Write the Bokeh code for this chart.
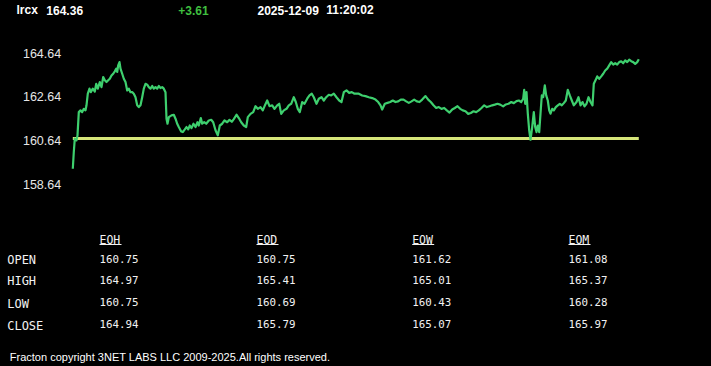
from bokeh.plotting import figure
from bokeh.models import Range1d
from bokeh.core.properties import value
from bokeh.embed import file_html
from bokeh.resources import INLINE

# ---------------- data ----------------
ticker = "lrcx"
open_price = 160.75
last_price = 164.36
stamp_date = "2025-12-09"
stamp_time = "11:20:02"

y_ticks = [158.64, 160.64, 162.64, 164.64]

# elapsed session ticks and traded price
elapsed_a = [0.3, 1.3, 2.3, 4.0, 5.0, 6.3, 8.0, 9.7, 11.3, 13.0,
             14.0, 15.3, 17.0, 18.3, 20.3, 22.3, 23.7, 25.3, 27.3, 29.0,
             30.7, 32.3, 34.0, 35.7, 37.3, 39.0, 40.7, 42.3, 43.7, 44.7,
             45.7, 47.0, 48.0, 49.7, 51.3, 53.0, 54.7, 56.3, 58.0, 59.7,
             61.3, 63.0, 64.7, 66.3, 68.0, 69.7, 71.3, 73.0, 74.7, 76.3,
             78.0, 79.7, 81.3, 83.0, 84.7, 86.3, 88.0, 89.7, 91.3, 93.0,
             94.0, 95.0, 96.3, 99.0, 101.3, 103.0, 104.7, 106.3, 108.7, 110.3,
             112.3, 114.0, 115.7, 117.3, 119.0, 121.0, 123.0, 125.0, 126.3, 128.3,
             129.7, 131.7, 133.7, 136.3, 138.7, 140.7]
price_a = [159.37, 160.13, 160.74, 160.66, 160.89, 161.95, 162.03, 161.95, 162.10, 162.03,
           162.26, 162.79, 163.02, 162.86, 163.02, 162.89, 163.24, 163.02, 163.32, 163.09,
           163.55, 163.40, 163.32, 163.40, 163.47, 163.62, 163.70, 163.81, 163.93, 163.78,
           164.08, 164.23, 163.93, 163.70, 163.47, 163.32, 162.94, 163.02, 162.86, 162.86,
           162.79, 162.63, 162.26, 162.18, 162.26, 162.63, 163.02, 163.24, 163.20, 163.09,
           163.02, 163.14, 163.02, 163.09, 163.02, 163.14, 163.05, 163.09, 163.02, 162.86,
           161.65, 161.42, 161.72, 161.80, 161.83, 161.65, 161.42, 161.27, 161.07, 161.04,
           161.16, 161.27, 161.16, 161.34, 161.22, 161.42, 161.27, 161.49, 161.34, 161.68,
           161.42, 161.49, 161.42, 161.57, 161.60, 161.49]

elapsed_b = [143.0, 145.3, 147.3, 149.7, 152.0, 154.7, 157.0, 159.3, 161.3, 164.0,
             166.3, 168.7, 171.3, 173.7, 175.3, 178.0, 180.7, 183.0, 185.3, 188.0,
             190.3, 192.7, 194.7, 197.0, 199.7, 202.0, 204.7, 206.7, 208.7, 211.3,
             214.0, 216.3, 218.7, 221.3, 223.3, 225.3, 227.3, 229.7, 232.0, 234.7,
             237.0, 239.3, 241.3, 244.0, 246.3, 249.0, 251.3, 253.7, 256.3, 258.7,
             261.3, 264.0, 266.7, 269.0, 271.3, 274.0, 276.7, 279.3, 282.0]
price_b = [161.12, 160.89, 161.34, 161.42, 161.57, 161.49, 161.60, 161.51, 161.63, 161.83,
           161.68, 161.49, 161.34, 161.27, 161.72, 161.87, 161.95, 162.22, 162.10, 162.18,
           162.03, 162.29, 162.48, 162.22, 162.26, 162.10, 162.26, 162.33, 161.87, 162.03,
           162.10, 162.26, 162.33, 162.63, 162.41, 162.10, 161.95, 162.41, 162.33, 162.56,
           162.71, 162.79, 162.63, 162.33, 162.56, 162.63, 162.48, 162.63, 162.74, 162.71,
           162.79, 162.63, 162.48, 162.41, 162.86, 162.94, 162.83, 162.86, 162.79]

elapsed_c = [286.3, 289.7, 293.0, 296.3, 299.7, 303.0, 305.7, 308.0, 309.7, 312.3,
             315.0, 317.7, 320.3, 323.0, 325.7, 328.3, 331.0, 333.7, 336.3, 339.0,
             341.7, 344.3, 347.0, 349.7, 353.0, 355.7, 358.3, 361.0, 363.7, 366.3,
             369.0, 371.7, 374.3, 377.0, 379.7, 382.3, 385.0, 387.7, 390.3, 393.0,
             395.7, 398.3, 401.0, 403.7, 406.3, 409.0, 411.7, 414.3, 417.0, 419.7,
             422.3, 425.0, 427.7]
price_c = [162.79, 162.71, 162.68, 162.63, 162.59, 162.52, 162.41, 162.26, 162.07, 162.33,
           162.37, 162.41, 162.48, 162.41, 162.44, 162.52, 162.52, 162.44, 162.37, 162.44,
           162.52, 162.44, 162.41, 162.52, 162.68, 162.52, 162.41, 162.26, 162.14, 162.18,
           162.10, 162.14, 162.03, 161.93, 162.07, 162.14, 162.22, 162.10, 162.03, 161.99,
           161.87, 161.91, 161.99, 161.95, 162.03, 162.14, 162.26, 162.18, 162.22, 162.26,
           162.29, 162.33, 162.29]

elapsed_d = [430.7, 433.3, 436.0, 438.7, 441.3, 444.0, 446.3, 448.7, 450.7, 451.7,
             452.7, 454.0, 455.3, 456.7, 458.0, 459.7, 461.3, 462.7, 464.0, 465.3,
             466.7, 468.0, 469.3, 470.7, 472.3, 473.7, 475.3, 476.7, 478.0, 479.7,
             481.3, 483.3, 485.3, 487.3, 489.3, 491.3, 493.3, 495.3, 497.3, 499.3,
             501.3, 504.0, 506.0, 508.0, 510.0, 512.0, 514.0, 516.0, 518.0, 520.0,
             521.3, 523.0, 524.7, 526.7, 528.7, 530.7, 532.7, 534.7, 536.7, 538.7,
             540.7, 542.7, 544.7, 546.7, 548.7, 550.7, 552.7, 554.7, 556.7, 558.7,
             560.7, 562.7, 564.7, 566.3]
price_d = [162.21, 162.30, 162.33, 162.41, 162.36, 162.45, 162.48, 162.41, 162.56, 162.97,
           162.33, 162.86, 161.88, 161.12, 160.69, 161.27, 161.95, 161.27, 161.04, 161.34,
           161.04, 161.88, 162.71, 162.63, 163.17, 162.71, 162.48, 162.03, 161.88, 162.10,
           162.03, 162.18, 162.26, 162.33, 162.26, 162.36, 162.48, 162.97, 162.71, 162.48,
           162.26, 162.41, 162.63, 162.26, 162.41, 162.21, 162.33, 162.63, 162.41, 162.26,
           163.24, 163.40, 163.58, 163.47, 163.58, 163.70, 163.85, 163.93, 164.08, 164.23,
           164.12, 164.18, 164.12, 164.23, 164.27, 164.18, 164.31, 164.23, 164.34, 164.27,
           164.23, 164.15, 164.23, 164.36]

row_names = ["OPEN", "HIGH", "LOW", "CLOSE"]
col_names = ["EOH", "EOD", "EOW", "EOM"]
eoh = [160.75, 164.97, 160.75, 164.94]
eod = [160.75, 165.41, 160.69, 165.79]
eow = [161.62, 165.01, 160.43, 165.07]
eom = [161.08, 165.37, 160.28, 165.97]

copyright_text = "Fracton copyright 3NET LABS LLC 2009-2025.All rights reserved."

# ---------------- assemble series ----------------
elapsed, price = [], []
for e, pr in ((elapsed_a, price_a), (elapsed_b, price_b), (elapsed_c, price_c), (elapsed_d, price_d)):
    n = min(len(e), len(pr))
    elapsed += e[:n]
    price += pr[:n]

# ---------------- figure ----------------
W, H = 711, 366
p = figure(width=W, height=H, output_backend="svg", toolbar_location=None,
           x_range=Range1d(-72, 639), y_range=Range1d(150.35, 167.04),
           x_axis_location=None, y_axis_location=None, min_border=0,
           background_fill_color="black", border_fill_color="black",
           outline_line_color=None)
p.grid.visible = False
p.extra_x_ranges = {"px": Range1d(0, W)}
p.extra_y_ranges = {"py": Range1d(start=H, end=0)}

# price axis labels (tick values through y scale)
p.text(x=[60.7] * len(y_ticks), y=y_ticks, text=[f"{v:.2f}" for v in y_ticks],
       x_range_name="px", text_align="right", text_baseline="middle",
       text_font=value("Liberation Sans"), text_font_size="12.5px", text_color="#e6e6e6")

# open reference line and price line
p.line([elapsed[0], elapsed[-1]], [open_price, open_price], line_color="#d6e67a", line_width=3)
p.line(elapsed, price, line_color="#3ecf6e", line_width=2.2, line_join="round")

# header (centred on the reference positions)
hdr_font = value("Liberation Sans")
p.text(x=[26.7, 64.2, 287.7, 349.5], y=[9.5] * 4,
       text=[ticker, f"{last_price:.2f}", stamp_date, stamp_time],
       x_range_name="px", y_range_name="py", text_align="center", text_baseline="middle",
       text_font=hdr_font, text_font_style="bold", text_font_size="12px", text_color="white")
p.text(x=[193.0], y=[9.5], text=[f"{last_price - open_price:+.2f}"],
       x_range_name="px", y_range_name="py", text_align="center", text_baseline="middle",
       text_font=hdr_font, text_font_style="bold", text_font_size="12px", text_color="#3fbf3f")

# table
mono = value("DejaVu Sans Mono")
col_x = [99.0, 256.0, 411.7, 568.0]
row_y = [258.4, 279.3, 301.8, 323.8]
p.text(x=col_x, y=[239.0] * 4, text=col_names, x_range_name="px", y_range_name="py",
       text_baseline="middle", text_font=mono, text_font_size="11.5px", text_color="#f2f2f2")
p.segment(x0=col_x, x1=[c + 22 for c in col_x], y0=[244.0] * 4, y1=[244.0] * 4,
          x_range_name="px", y_range_name="py", line_color="#f2f2f2", line_width=1)
p.text(x=[6.7] * 4, y=[r + 1.2 for r in row_y], text=row_names, x_range_name="px", y_range_name="py",
       text_baseline="middle", text_font=mono, text_font_size="12px", text_color="#f2f2f2")
for cx, vals in zip(col_x, (eoh, eod, eow, eom)):
    p.text(x=[cx] * 4, y=row_y, text=[f"{v:.2f}" for v in vals], x_range_name="px", y_range_name="py",
           text_baseline="middle", text_font=mono, text_font_size="10.8px", text_color="#f2f2f2")

# footer
p.text(x=[9.3], y=[356.0], text=[copyright_text], x_range_name="px", y_range_name="py",
       text_baseline="middle", text_font=value("Liberation Sans"), text_font_size="11px",
       text_color="white")

html = file_html(p, INLINE, title="lrcx")
html = html.replace("</head>", "<style>html,body{margin:0;padding:0;background:#000;overflow:hidden;}</style></head>", 1)
open("out.html", "w").write(html)
